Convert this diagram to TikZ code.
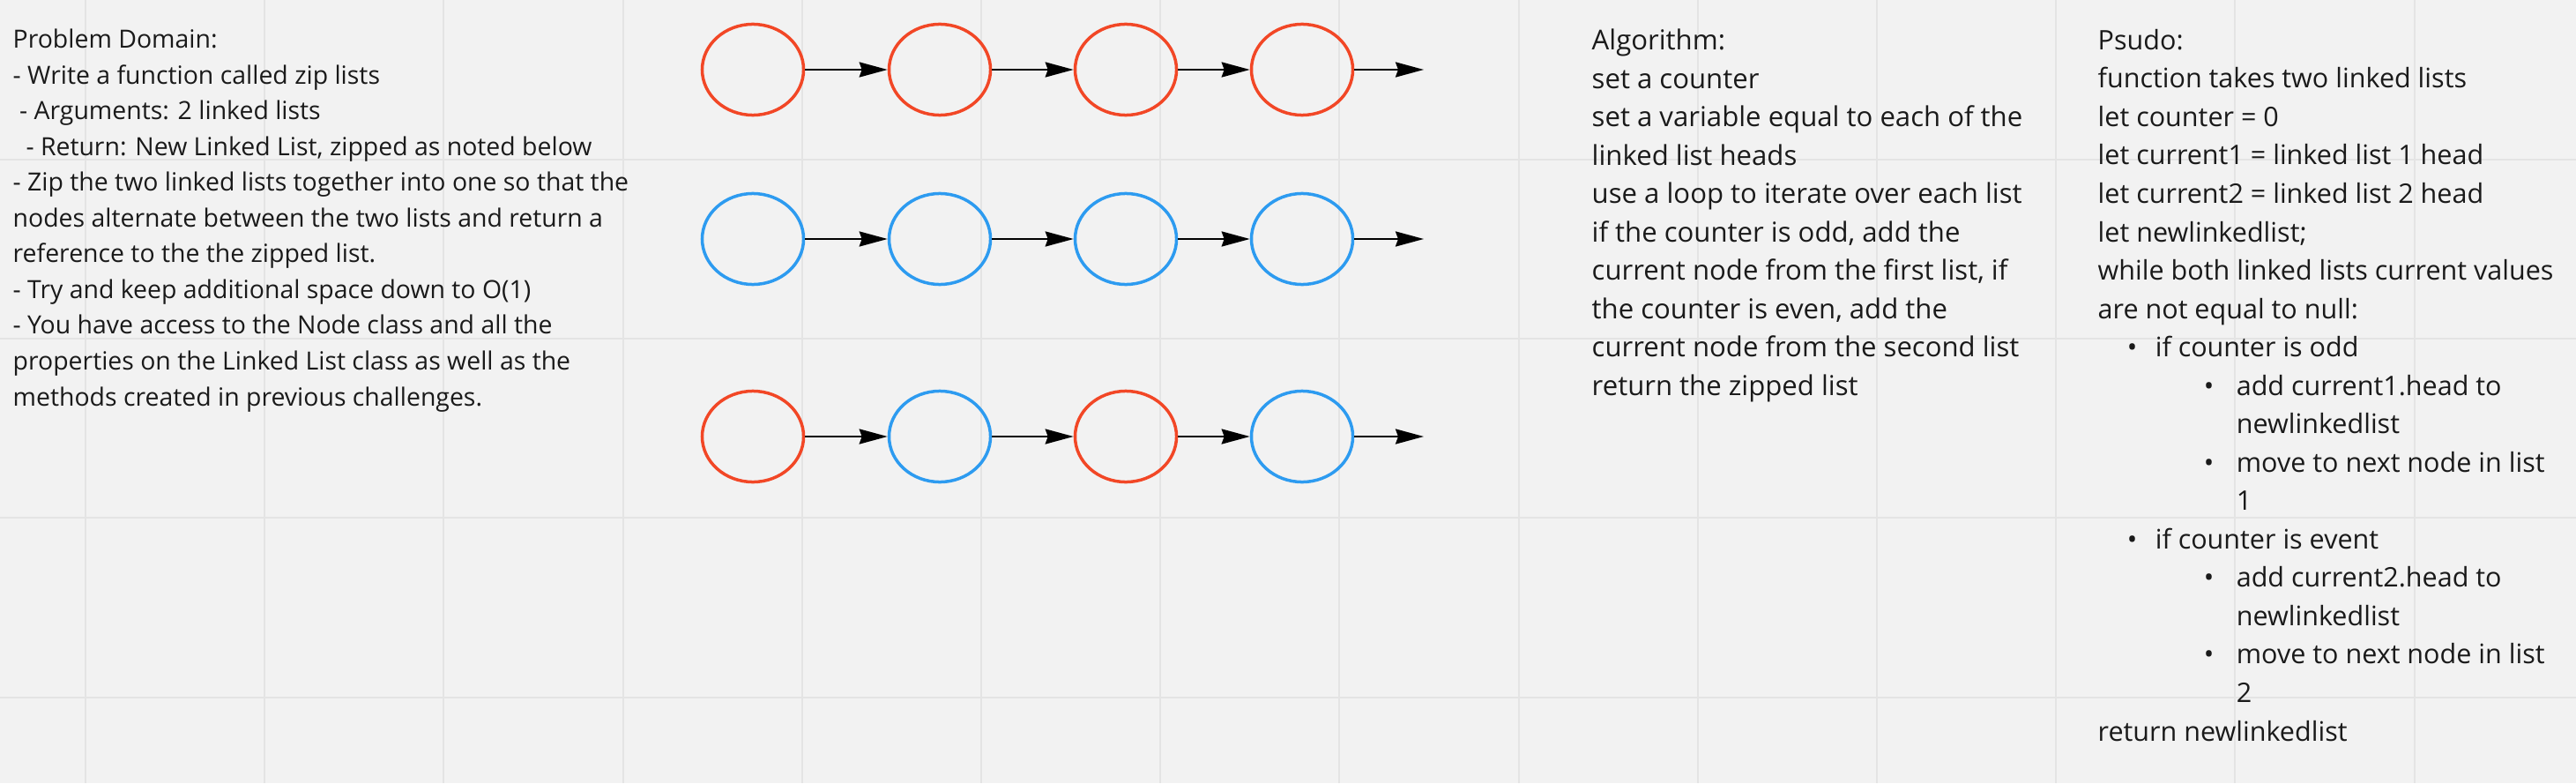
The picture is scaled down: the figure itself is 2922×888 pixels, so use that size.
\documentclass[tikz,border=0pt]{standalone}
\usepackage{fontspec}
\setmainfont{Open Sans}
\usepackage{xcolor}
\usetikzlibrary{shapes.geometric, arrows.meta}

\definecolor{boardbg}{HTML}{F2F2F2}
\definecolor{boardgrid}{HTML}{E4E4E4}
\definecolor{listred}{HTML}{F24726}
\definecolor{listblue}{HTML}{2D9BF0}
\definecolor{notetext}{HTML}{1A1A1A}

\newcommand{\psitem}[3]{\hspace*{#1}\makebox[#2][l]{\textbullet}#3}

\begin{document}
\begin{tikzpicture}[x=0.01cm, y=-0.01cm,
		listnode/.style={ellipse, line width=0.035cm, minimum width=1.15cm, minimum height=1.03cm, inner sep=0pt},
		redlist/.style={listnode, draw=listred},
		bluelist/.style={listnode, draw=listblue},
		nextarrow/.style={-{Stealth[length=0.32cm, width=0.17cm, inset=0.03cm]}, line width=0.025cm},
		gridline/.style={boardgrid, line width=0.02cm},
		leftnote/.style={anchor=base west, inner sep=0pt, align=left, text=notetext, font=\fontsize{8.08pt}{11.52pt}\selectfont},
		rightnote/.style={anchor=base west, inner sep=0pt, align=left, text=notetext, font=\fontsize{8.68pt}{12.38pt}\selectfont}]
		% board
		\useasboundingbox (0,0) rectangle (2922,888);
		\fill [boardbg] (0,0) rectangle (2922,888);
		\foreach \i in {0,...,13}
			\draw [gridline] ({97+203.2*\i},0) -- ++(0,888);
		\foreach \i in {0,...,3}
			\draw [gridline] (0,{181+203.2*\i}) -- ++(2922,0);

		% the three lists
		\node [redlist] (r1) at (854,79) {};
		\node [redlist] (r2) at (1066,79) {};
		\node [redlist] (r3) at (1277,79) {};
		\node [redlist] (r4) at (1477,79) {};
		\coordinate (rend) at (1615,79);
		\node [bluelist] (b1) at (854,271) {};
		\node [bluelist] (b2) at (1066,271) {};
		\node [bluelist] (b3) at (1277,271) {};
		\node [bluelist] (b4) at (1477,271) {};
		\coordinate (bend) at (1615,271);
		\node [redlist] (z1) at (854,495) {};
		\node [bluelist] (z2) at (1066,495) {};
		\node [redlist] (z3) at (1277,495) {};
		\node [bluelist] (z4) at (1477,495) {};
		\coordinate (zend) at (1615,495);
		\foreach \l in {r,b,z} {
			\draw [nextarrow] (\l1) -- (\l2);
			\draw [nextarrow] (\l2) -- (\l3);
			\draw [nextarrow] (\l3) -- (\l4);
			\draw [nextarrow] (\l4) -- (\l end);
		}

		% notes (base = baseline of the last line)
		\node [leftnote] (domain) at (14,460) {Problem Domain:\\
			- Write a function called zip lists\\
			\hspace*{0.074cm}- Arguments: 2 linked lists\\
			\hspace*{0.148cm}- Return: New Linked List, zipped as noted below\\
			- Zip the two linked lists together into one so that the\\
			nodes alternate between the two lists and return a\\
			reference to the the zipped list.\\
			- Try and keep additional space down to O(1)\\
			- You have access to the Node class and all the\\
			properties on the Linked List class as well as the\\
			methods created in previous challenges.};
		\node [rightnote, font=\fontsize{8.85pt}{12.38pt}\selectfont] (algorithm) at (1805,448.5) {Algorithm:\\
			set a counter\\
			set a variable equal to each of the\\
			linked list heads\\
			use a loop to iterate over each list\\
			if the counter is odd, add the\\
			current node from the first list, if\\
			the counter is even, add the\\
			current node from the second list\\
			return the zipped list};
		\node [rightnote] (psudo) at (2379,840) {Psudo:\\
			function takes two linked lists\\
			let counter = 0\\
			let current1 = linked list 1 head\\
			let current2 = linked list 2 head\\
			let newlinkedlist;\\
			while both linked lists current values\\
			are not equal to null:\\
			\psitem{0.33cm}{0.32cm}{if counter is odd}\\
			\psitem{1.20cm}{0.37cm}{add current1.head to}\\
			\hspace*{1.57cm}newlinkedlist\\
			\psitem{1.20cm}{0.37cm}{move to next node in list}\\
			\hspace*{1.57cm}1\\
			\psitem{0.33cm}{0.32cm}{if counter is event}\\
			\psitem{1.20cm}{0.37cm}{add current2.head to}\\
			\hspace*{1.57cm}newlinkedlist\\
			\psitem{1.20cm}{0.37cm}{move to next node in list}\\
			\hspace*{1.57cm}2\\
			return newlinkedlist};
		\end{tikzpicture}
\end{document}
